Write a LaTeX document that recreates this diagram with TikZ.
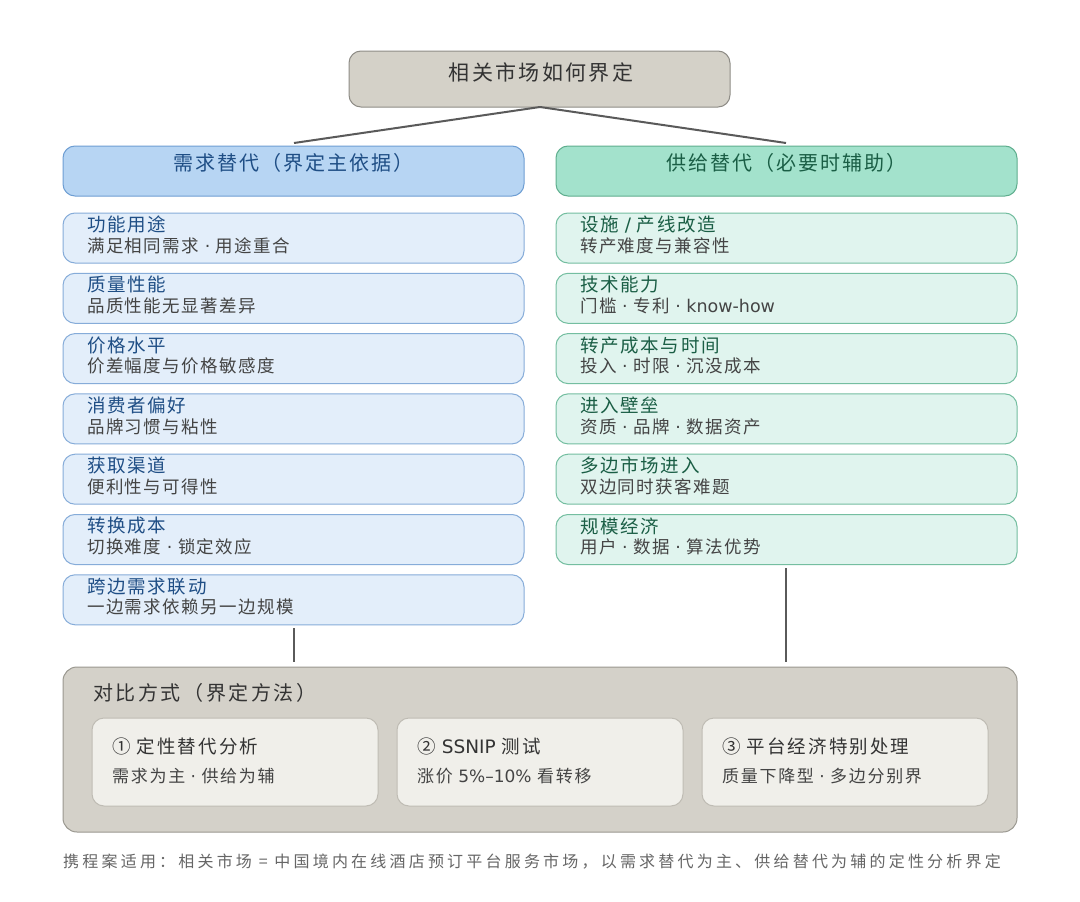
\documentclass[tikz,border=0pt]{standalone}
\usepackage{fontspec}
\setmainfont{Noto Sans CJK SC}
\newfontfamily\lat{DejaVu Sans}
\usetikzlibrary{positioning}
\definecolor{topfill}{HTML}{D4D1C8}
\definecolor{topdraw}{HTML}{8E8C86}
\definecolor{lhfill}{HTML}{B7D5F3}
\definecolor{lhdraw}{HTML}{6E9ED3}
\definecolor{rhfill}{HTML}{A3E2CC}
\definecolor{rhdraw}{HTML}{5FAE8E}
\definecolor{lifill}{HTML}{E3EEFA}
\definecolor{lidraw}{HTML}{86ACD9}
\definecolor{rifill}{HTML}{E0F4EE}
\definecolor{ridraw}{HTML}{74BEA0}
\definecolor{blueT}{HTML}{1F4E85}
\definecolor{greenT}{HTML}{1A5E45}
\definecolor{subT}{HTML}{444444}
\definecolor{botfill}{HTML}{D4D1C9}
\definecolor{botdraw}{HTML}{9A9890}
\definecolor{inFill}{HTML}{F0EFEA}
\definecolor{inDraw}{HTML}{BFBCB4}
\definecolor{lineC}{HTML}{5A5A5A}
\newcommand{\md}{{\lat\ ·\ }}
\tikzset{
  topbox/.style={draw=topdraw, fill=topfill, rounded corners=12pt, line width=1pt},
  lhead/.style={draw=lhdraw, fill=lhfill, rounded corners=12pt, line width=1pt},
  rhead/.style={draw=rhdraw, fill=rhfill, rounded corners=12pt, line width=1pt},
  litem/.style={draw=lidraw, fill=lifill, rounded corners=12pt, line width=1pt},
  ritem/.style={draw=ridraw, fill=rifill, rounded corners=12pt, line width=1pt},
  botbox/.style={draw=botdraw, fill=botfill, rounded corners=14pt, line width=1pt},
  inbox/.style={draw=inDraw, fill=inFill, rounded corners=12pt, line width=1pt},
  conn/.style={draw=lineC, line width=2pt},
  ttl/.style={anchor=west, inner sep=0pt, font=\fontsize{18.5}{20}\selectfont\addfontfeature{LetterSpace=9}},
  sub/.style={anchor=west, inner sep=0pt, text=subT, font=\fontsize{17.5}{19}\selectfont\addfontfeature{LetterSpace=8}},
}
\begin{document}
\begin{tikzpicture}[x=1pt,y=-1pt]
\useasboundingbox (0,0) rectangle (1080,902);
\fill[white] (0,0) rectangle (1080,902);
% top
\path[topbox] (349,51) rectangle (730,107);
\node[inner sep=0pt, text=black!80, font=\fontsize{21}{23}\selectfont\addfontfeature{LetterSpace=11}] (top) at (541,72) {相关市场如何界定};
\coordinate (topb) at (540,107);
% headers
\path[lhead] (63,146) rectangle (524,196);
\path[rhead] (556,146) rectangle (1017,196);
\node[inner sep=0pt, text=blueT, font=\fontsize{20}{22}\selectfont\addfontfeature{LetterSpace=10}] (lh) at (293.5,163) {需求替代（界定主依据）};
\node[inner sep=0pt, text=greenT, font=\fontsize{20}{22}\selectfont\addfontfeature{LetterSpace=10}] (rh) at (786.5,163) {供给替代（必要时辅助）};
\coordinate (lht) at (294,143);
\coordinate (rht) at (786,143);
\draw[conn] (topb) -- (lht);
\draw[conn] (topb) -- (rht);
% left items
\foreach \i/\s [count=\k from 0] in {
  功能用途/{满足相同需求\md 用途重合},
  质量性能/品质性能无显著差异,
  价格水平/价差幅度与价格敏感度,
  消费者偏好/品牌习惯与粘性,
  获取渠道/便利性与可得性,
  转换成本/{切换难度\md 锁定效应},
  跨边需求联动/一边需求依赖另一边规模}{
  \pgfmathsetmacro{\yy}{213+60.3*\k}
  \path[litem] (63,\yy) rectangle (524,\yy+50);
  \node[ttl, text=blueT] (lt\k) at (87,\yy+11.5) {\i};
  \node[sub] (ls\k) at (87,\yy+32.5) {\s};
}
\foreach \i/\s [count=\k from 0] in {
  {设施{\lat\ /\ }产线改造}/转产难度与兼容性,
  技术能力/{门槛\md 专利\md{\lat know-how}},
  转产成本与时间/{投入\md 时限\md 沉没成本},
  进入壁垒/{资质\md 品牌\md 数据资产},
  多边市场进入/双边同时获客难题,
  规模经济/{用户\md 数据\md 算法优势}}{
  \pgfmathsetmacro{\yy}{213+60.3*\k}
  \path[ritem] (556,\yy) rectangle (1017,\yy+50);
  \node[ttl, text=greenT] (rt\k) at (580,\yy+11.5) {\i};
  \node[sub] (rs\k) at (580,\yy+32.5) {\s};
}
% bottom
\path[botbox] (63,667) rectangle (1017,832);
\node[anchor=west, inner sep=0pt, text=black!80, font=\fontsize{20}{22}\selectfont\addfontfeature{LetterSpace=13}] (bt) at (93,693) {对比方式（界定方法）};
\coordinate (lb1) at (294,628);
\coordinate (lb2) at (294,662);
\coordinate (rb1) at (786,568);
\coordinate (rb2) at (786,662);
\draw[conn] (lb1) -- (lb2);
\draw[conn] (rb1) -- (rb2);
\foreach \x/\a/\b [count=\k] in {92/{① 定性替代分析}/{需求为主\md 供给为辅}, 397/{② {\lat SSNIP} 测试}/{涨价 {\lat 5\%–10\%} 看转移}, 702/{③ 平台经济特别处理}/{质量下降型\md 多边分别界}}{
  \path[inbox] (\x,718) rectangle (\x+286,806);
  \node[anchor=west, inner sep=0pt, text=black!80, font=\fontsize{18.5}{21}\selectfont\addfontfeature{LetterSpace=11}] (mt\k) at (\x+20,746) {\a};
  \node[anchor=west, inner sep=0pt, text=subT, font=\fontsize{17}{19}\selectfont\addfontfeature{LetterSpace=10}] (ms\k) at (\x+20,776) {\b};
}
\node[anchor=west, inner sep=0pt, text=black!60, font=\fontsize{16}{18}\selectfont\addfontfeature{LetterSpace=20}] (foot) at (63,862) {携程案适用：相关市场 = 中国境内在线酒店预订平台服务市场，以需求替代为主、供给替代为辅的定性分析界定};
\end{tikzpicture}
\end{document}
